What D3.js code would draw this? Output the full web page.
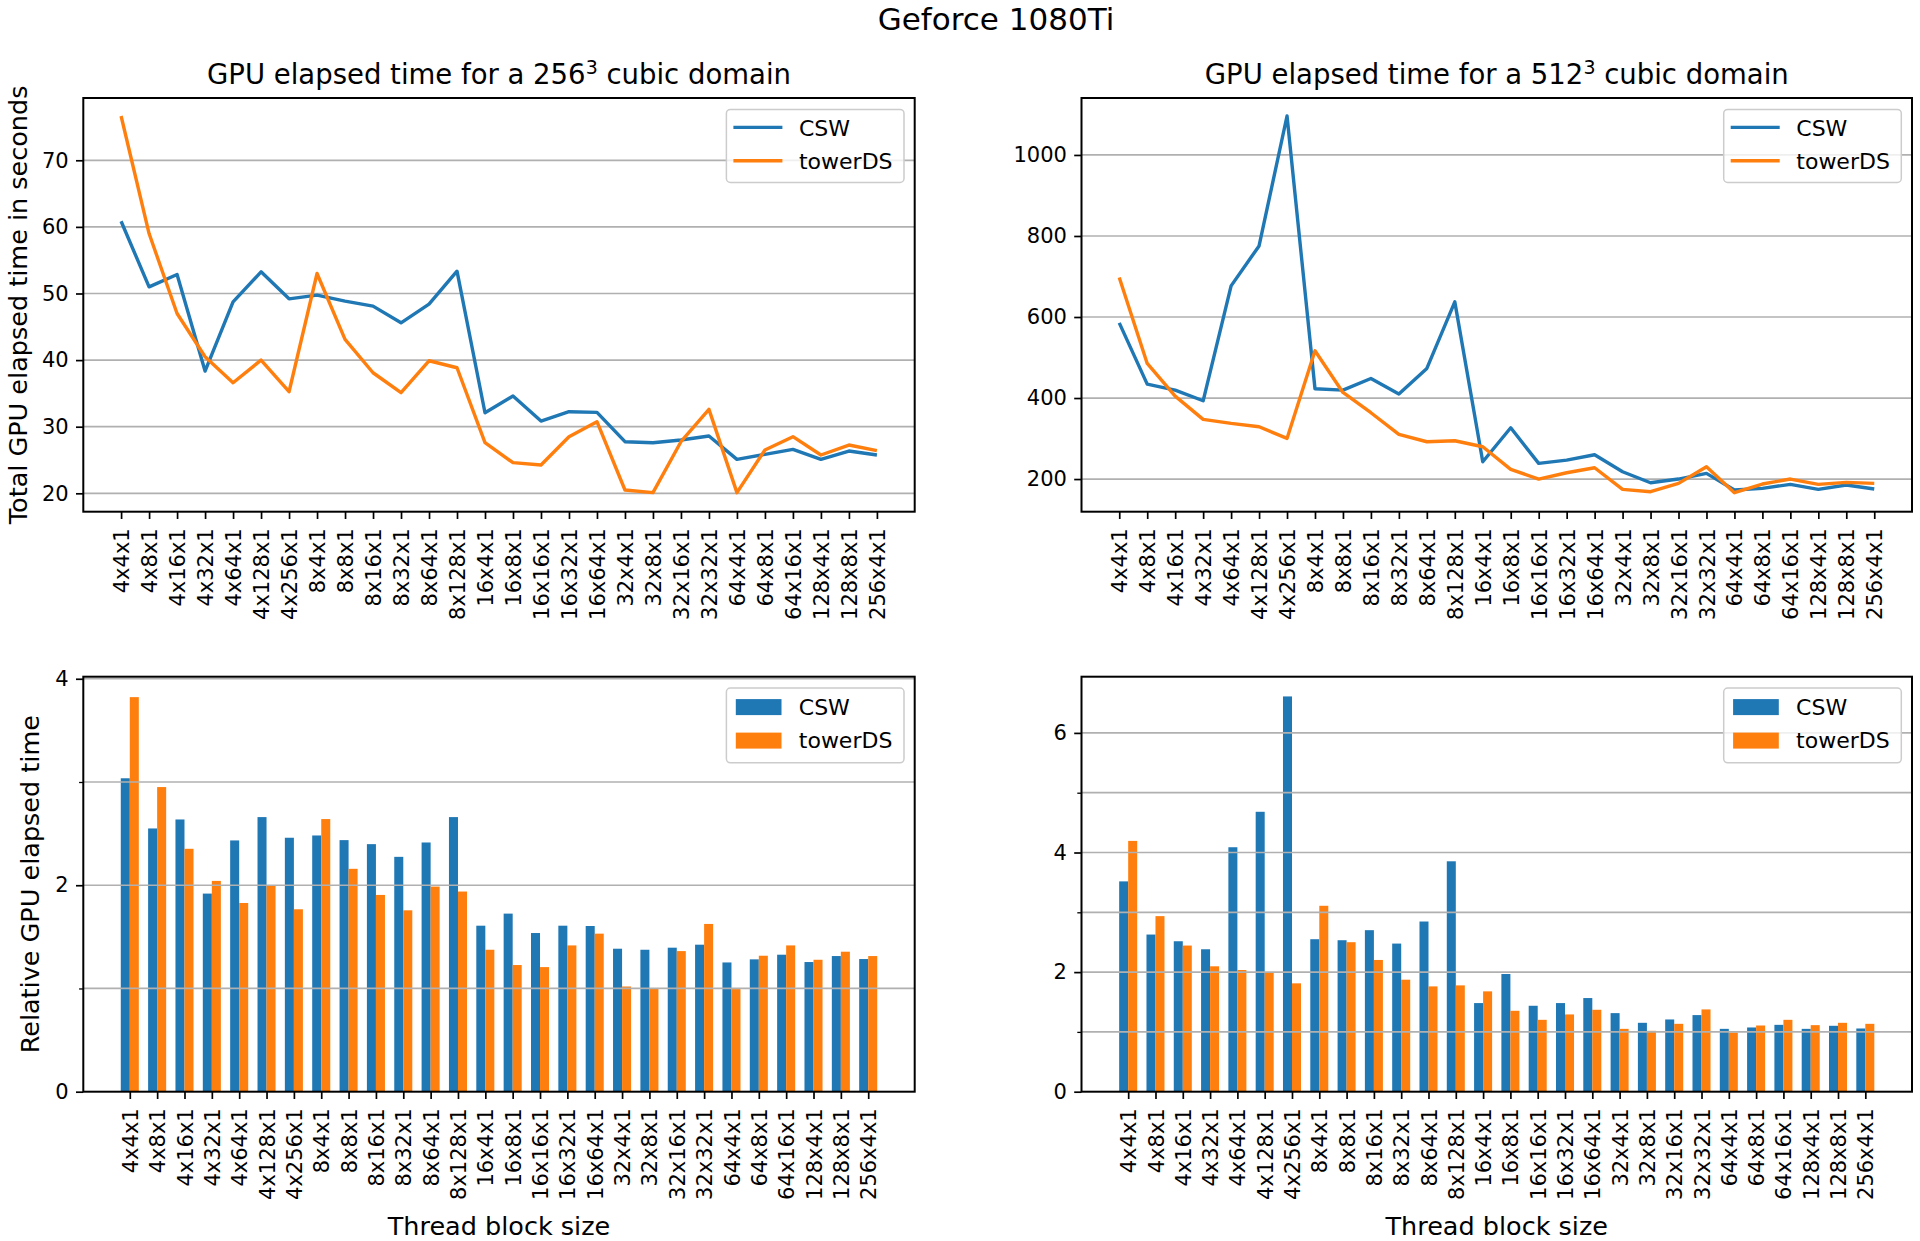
<!DOCTYPE html>
<html><head><meta charset="utf-8">
<script src="https://cdn.jsdelivr.net/npm/d3@7"></script>
<style>
body{margin:0;background:#fff}
svg{display:block}
text{font-family:"DejaVu Sans",sans-serif;fill:#000}
</style>
</head><body>
<svg id="c" width="1920" height="1241"></svg>
<script>
// ---------- data ----------
const categories = ["4x4x1","4x8x1","4x16x1","4x32x1","4x64x1","4x128x1","4x256x1",
  "8x4x1","8x8x1","8x16x1","8x32x1","8x64x1","8x128x1",
  "16x4x1","16x8x1","16x16x1","16x32x1","16x64x1",
  "32x4x1","32x8x1","32x16x1","32x32x1",
  "64x4x1","64x8x1","64x16x1","128x4x1","128x8x1","256x4x1"];
const seriesNames = ["CSW","towerDS"];

// total GPU elapsed time, seconds (256^3)
const csw256 = [60.85,51.0,52.85,38.35,48.75,53.25,49.2,49.75,48.85,48.1,45.6,48.4,53.35,32.1,34.6,30.85,32.25,32.15,27.75,27.6,28.0,28.6,25.1,25.85,26.6,25.1,26.35,25.75];
const tower256 = [76.65,59.0,47.0,40.5,36.6,40.0,35.25,53.0,43.1,38.1,35.1,39.9,38.85,27.6,24.6,24.25,28.5,30.75,20.5,20.1,27.75,32.6,20.1,26.5,28.5,25.75,27.25,26.4];
// total GPU elapsed time, seconds (512^3)
const csw512 = [585.6,434.3,419.6,393.2,676.9,775.5,1096.2,422.8,419.6,448.3,409.7,473.0,637.4,242.7,326.6,238.6,246.8,260.0,218.1,190.9,200,214,172.9,177.0,186.9,174.5,185.2,175.4];
const tower512 = [697.4,485.3,404.8,347.2,337.3,329.1,300.3,516.6,413.8,363.7,310.2,292.1,294.6,279.8,223.9,200,215.6,227.9,174.5,168.8,189.3,230.4,166.3,187.7,200,186.9,191.8,189.3];
// relative GPU elapsed time (256^3)
const relCsw256 = [3.036,2.55,2.637,1.919,2.434,2.66,2.46,2.482,2.437,2.398,2.275,2.414,2.66,1.608,1.725,1.537,1.608,1.605,1.385,1.375,1.395,1.424,1.252,1.282,1.327,1.256,1.314,1.285];
const relTower256 = [3.822,2.951,2.353,2.042,1.828,1.994,1.767,2.641,2.159,1.906,1.757,1.987,1.939,1.375,1.227,1.207,1.417,1.531,1.019,0.997,1.362,1.625,0.994,1.317,1.417,1.278,1.356,1.314];
// relative GPU elapsed time (512^3)
const relCsw512 = [3.517,2.628,2.516,2.382,4.088,4.681,6.61,2.55,2.533,2.701,2.477,2.846,3.853,1.482,1.968,1.437,1.482,1.566,1.314,1.152,1.208,1.281,1.051,1.074,1.118,1.051,1.102,1.057];
const relTower512 = [4.194,2.936,2.444,2.097,2.035,1.991,1.812,3.109,2.5,2.203,1.873,1.761,1.778,1.678,1.353,1.202,1.292,1.37,1.051,1.018,1.135,1.376,0.99,1.107,1.202,1.113,1.152,1.135];

// tick values
const yTicks256 = [20,30,40,50,60,70];
const yTicks512 = [200,400,600,800,1000];
const relTicks256 = [0,2,4];
const relMinor256 = [1,3];
const relTicks512 = [0,2,4,6];
const relMinor512 = [1,3,5];

const suptitle = "Geforce 1080Ti";
const titleMain256 = ["GPU elapsed time for a 256", "3", " cubic domain"];
const titleMain512 = ["GPU elapsed time for a 512", "3", " cubic domain"];
const yLabelTop = "Total GPU elapsed time in seconds";
const yLabelBottom = "Relative GPU elapsed time";
const xLabel = "Thread block size";

// ---------- drawing ----------
const color = d3.scaleOrdinal().domain(seriesNames).range(["#1f77b4","#ff7f0e"]);
const svg = d3.select("#c");
const TICK = 7.3, PAD = 7.3, TICKFS = 21, LEGFS = 22;
const GRID = "#b0b0b0";

svg.append("text").attr("x", 996).attr("y", 29.5).attr("text-anchor","middle")
  .attr("font-size", 31).text(suptitle);

function panel(cfg){
  const {left,right,top,bottom} = cfg;
  const g = svg.append("g");
  const x = d3.scaleLinear().domain(cfg.xDomain).range([left,right]);
  const y = d3.scaleLinear().domain(cfg.yDomain).range([bottom,top]);
  const idx = d3.range(categories.length);

  const gridG = g.append("g");
  const drawGrid = () => {
    gridG.selectAll("line").data(cfg.grid.filter(v => y(v) > top + 1 && y(v) < bottom - 1)).join("line")
      .attr("x1", left).attr("x2", right).attr("y1", d => y(d)).attr("y2", d => y(d))
      .attr("stroke", GRID).attr("stroke-width", 1.7);
  };

  if (cfg.type === "line") {
    drawGrid();
    cfg.series.forEach((vals, s) => {
      const line = d3.line().x((d,i) => x(i)).y(d => y(d));
      g.append("path").datum(vals).attr("d", line).attr("fill","none")
        .attr("stroke", color(seriesNames[s])).attr("stroke-width", 3.4)
        .attr("stroke-linejoin","round");
    });
  } else {
    const w = cfg.barWidth;
    cfg.series.forEach((vals, s) => {
      g.append("g").selectAll("rect").data(vals).join("rect")
        .attr("x", (d,i) => s === 0 ? x(i - w) : x(i))
        .attr("width", x(w) - x(0))
        .attr("y", d => y(d)).attr("height", d => y(0) - y(d))
        .attr("fill", color(seriesNames[s]));
    });
    gridG.raise();
    drawGrid();
  }

  // y axis
  const ya = g.append("g").attr("transform", `translate(${left},0)`)
    .call(d3.axisLeft(y).tickValues(cfg.yTicks).tickSize(TICK).tickPadding(PAD).tickFormat(d3.format("d")));
  ya.select(".domain").remove();
  ya.selectAll("line").attr("stroke","#000").attr("stroke-width",1.7);
  ya.selectAll("text").attr("font-size", TICKFS).attr("font-family",'"DejaVu Sans",sans-serif').attr("fill","#000");
  if (cfg.minor) {
    const ym = g.append("g").attr("transform", `translate(${left},0)`)
      .call(d3.axisLeft(y).tickValues(cfg.minor).tickSize(4.2).tickFormat(""));
    ym.select(".domain").remove();
    ym.selectAll("line").attr("stroke","#000").attr("stroke-width",1.3);
  }

  // x axis
  const xa = g.append("g").attr("transform", `translate(0,${bottom})`)
    .call(d3.axisBottom(x).tickValues(idx).tickSize(TICK).tickFormat(i => categories[i]));
  xa.select(".domain").remove();
  xa.selectAll("line").attr("stroke","#000").attr("stroke-width",1.7);
  xa.selectAll("text").attr("font-size", TICKFS).attr("font-family",'"DejaVu Sans",sans-serif').attr("fill","#000")
    .attr("transform","rotate(-90)").attr("text-anchor","end")
    .attr("x", -(TICK + PAD + 2)).attr("y", 0).attr("dy","0.36em");

  // frame
  g.append("rect").attr("x", left).attr("y", top).attr("width", right-left).attr("height", bottom-top)
    .attr("fill","none").attr("stroke","#000").attr("stroke-width",2);

  // title
  if (cfg.title) {
    const t = g.append("text").attr("x", (left+right)/2).attr("y", 84).attr("text-anchor","middle").attr("font-size", 27.5);
    t.append("tspan").text(cfg.title[0]);
    t.append("tspan").attr("font-size", 19).attr("dy", -10.5).text(cfg.title[1]);
    t.append("tspan").attr("dy", 10.5).text(cfg.title[2]);
  }
  if (cfg.ylabel) {
    g.append("text").attr("transform", `translate(${cfg.ylabelX},${(top+bottom)/2}) rotate(-90)`)
      .attr("text-anchor","middle").attr("font-size", 25.5).text(cfg.ylabel);
  }
  if (cfg.xlabel) {
    g.append("text").attr("x",(left+right)/2).attr("y",1235).attr("text-anchor","middle")
      .attr("font-size",25.5).text(cfg.xlabel);
  }

  // legend
  const lx = right - 10.7 - 177.6, ly = top + 11.4;
  const lg = g.append("g").attr("transform", `translate(${lx},${ly})`);
  lg.append("rect").attr("width",177.6).attr("height", cfg.type === "line" ? 73 : 74.7)
    .attr("rx",4).attr("fill","#fff").attr("fill-opacity",0.8)
    .attr("stroke","#cccccc").attr("stroke-width",1.5);
  seriesNames.forEach((n, s) => {
    if (cfg.type === "line") {
      const yy = 18 + s*33.4;
      lg.append("line").attr("x1",7).attr("x2",56).attr("y1",yy).attr("y2",yy)
        .attr("stroke", color(n)).attr("stroke-width",3.4);
      lg.append("text").attr("x",72.6).attr("y", 26.4 + s*33.4).attr("font-size",LEGFS).text(n);
    } else {
      lg.append("rect").attr("x",9.4).attr("y", 11 + s*33.5).attr("width",45.7).attr("height",16)
        .attr("fill", color(n));
      lg.append("text").attr("x",72.4).attr("y", 27 + s*33.4).attr("font-size",LEGFS).text(n);
    }
  });
}

panel({type:"line", left:83.3, right:914.7, top:98, bottom:511.7,
  xDomain:[-1.35, 28.35], yDomain:[17.24, 79.35], yTicks:yTicks256, grid:yTicks256,
  series:[csw256, tower256], title:titleMain256, ylabel:yLabelTop, ylabelX:27});
panel({type:"line", left:1081.5, right:1912, top:98, bottom:511.7,
  xDomain:[-1.35, 28.35], yDomain:[119.4, 1140.6], yTicks:yTicks512, grid:yTicks512,
  series:[csw512, tower512], title:titleMain512});
panel({type:"bar", left:83.3, right:914.7, top:676.7, bottom:1091.7, barWidth:0.33,
  xDomain:[-1.70, 28.70], yDomain:[0, 4.02], yTicks:relTicks256, minor:relMinor256, grid:[1,2,3,4],
  series:[relCsw256, relTower256], ylabel:yLabelBottom, ylabelX:38.5, xlabel:xLabel});
panel({type:"bar", left:1081.5, right:1912, top:676.7, bottom:1091.7, barWidth:0.33,
  xDomain:[-1.71, 28.71], yDomain:[0, 6.94], yTicks:relTicks512, minor:relMinor512, grid:[1,2,3,4,5,6],
  series:[relCsw512, relTower512], xlabel:xLabel});
</script>
</body></html>
